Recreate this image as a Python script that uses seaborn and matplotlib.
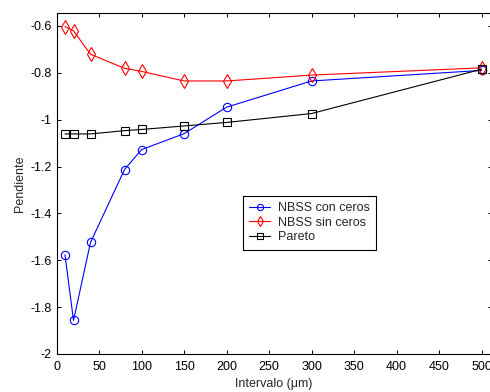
"""
Pendiente vs intervalo: NBSS con/sin ceros y Pareto.
"""

import numpy as np
import pandas as pd
import matplotlib
matplotlib.use("Agg")
import matplotlib.pyplot as plt
import seaborn as sns

# Data
intervalo = [10, 20, 40, 80, 100, 150, 200, 300, 500]
nbss_con_ceros = [-1.577, -1.857, -1.524, -1.213, -1.128, -1.060, -0.947, -0.835, -0.790]
nbss_sin_ceros = [-0.603, -0.621, -0.721, -0.781, -0.794, -0.835, -0.835, -0.810, -0.779]
pareto = [-1.061, -1.061, -1.061, -1.047, -1.042, -1.027, -1.012, -0.974, -0.785]

x_ticks = list(range(0, 501, 50))
y_ticks = [-2, -1.8, -1.6, -1.4, -1.2, -1, -0.8, -0.6]

sns.set_style("ticks")
plt.rcParams['font.family'] = ['Liberation Sans', 'DejaVu Sans']
plt.rcParams['font.size'] = 9

W, H = 490, 392
fig = plt.figure(figsize=(W / 100, H / 100), dpi=100)
# axes box: x=0 at 56.5 px, 500 at 481.5 px; right spine falls just off the image
xmax = 512
left, right = 56.5, 56.5 + xmax * 0.85
top, bottom = 13, 354
ax = fig.add_axes([left / W, 1 - bottom / H, (right - left) / W, (bottom - top) / H])

series = [
    ("NBSS con ceros", nbss_con_ceros, "blue", "o", 6),
    ("NBSS sin ceros", nbss_sin_ceros, "red", "d", 7),
    ("Pareto", pareto, "black", "s", 6),
]
for name, vals, col, mk, ms in series:
    df = pd.DataFrame({"intervalo": intervalo, "pendiente": vals})
    sns.lineplot(data=df, x="intervalo", y="pendiente", ax=ax, color=col,
                 marker=mk, markersize=ms, markerfacecolor="none",
                 markeredgecolor=col, markeredgewidth=0.8, linewidth=0.8,
                 label=name)

ax.set_xlim(0, xmax)
ax.set_ylim(-2, -0.545)
ax.set_xticks(x_ticks)
ax.set_xticklabels([str(t) for t in x_ticks])
ax.set_yticks(y_ticks)
ax.set_yticklabels(["%g" % t for t in y_ticks])
ax.tick_params(direction="in", top=True, right=True, length=3, width=0.7,
               colors="black", labelsize=9, pad=3.5)
ax.tick_params(axis="x", pad=5)
for s in ax.spines.values():
    s.set_visible(True)
    s.set_linewidth(0.8)
    s.set_color("black")

ax.set_xlabel("Intervalo (μm)", fontsize=9, labelpad=4)
ax.set_ylabel("Pendiente", fontsize=9, labelpad=3)

leg = ax.legend(loc="upper left", bbox_to_anchor=(0.428, 0.463), frameon=True,
                fancybox=False, edgecolor="black", framealpha=1,
                handlelength=1.7, borderpad=0.5, labelspacing=0.2,
                handletextpad=0.6, borderaxespad=0, fontsize=9,
                markerscale=0.75)
leg.get_frame().set_linewidth(0.8)

fig.savefig("out.png", dpi=100)
plt.close(fig)
print("Saved figure: out.png")
